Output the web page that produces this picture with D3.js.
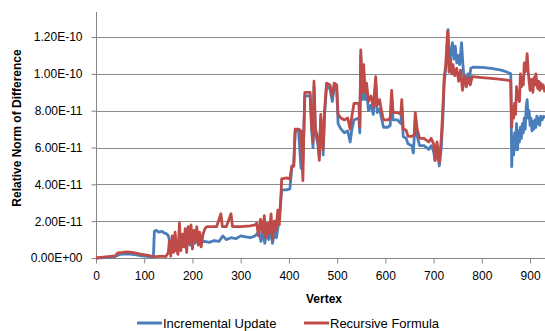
<!DOCTYPE html>
<html>
<head>
<meta charset="utf-8">
<script src="https://cdn.jsdelivr.net/npm/d3@7"></script>
<style>
  body { margin: 0; background: #fff; }
  text { font-family: "Liberation Sans", Arial, sans-serif; fill: #000; }
</style>
</head>
<body>
<div id="chart"></div>
<script>
// values, in units of 1E-11
const UNIT = 1e-11;
const Y_TICKS = [0, 2e-11, 4e-11, 6e-11, 8e-11, 1e-10, 1.2e-10];
const X_TICKS = [0, 100, 200, 300, 400, 500, 600, 700, 800, 900];
const SERIES_NAMES = ["Incremental Update", "Recursive Formula"];
const SERIES_COLORS = ["#4a7ebb", "#be4b48"];

// [vertex, value]
const incrementalUpdate = [
  [0,0],[20,0.02],[40,0.08],[50,0.2],[65,0.22],[80,0.18],[95,0.12],[110,0.08],[119,0.05],
  [121,1.45],[125,1.5],[130,1.4],[137,1.45],[142,1.35],[147,1.3],[150,1.2],[153,0.9],
  [155,0.3],[160,0.8],[165,0.4],[170,0.9],[175,0.5],[180,1.0],[185,0.6],[190,0.9],[195,0.7],
  [200,1.0],[205,0.8],[210,1.0],[215,0.85],[225,0.9],[235,0.85],[245,0.95],[255,0.9],[263,1.2],
  [270,1.0],[280,1.1],[290,1.05],[300,1.2],[310,1.15],[320,1.1],[330,1.2],[338,1.45],
  [342,0.9],[346,1.4],[350,0.8],[354,1.5],[358,1.0],[362,1.6],[366,0.8],[370,1.4],[374,1.1],
  [377,1.6],[381,2.5],[385,3.7],[395,3.7],[402,3.75],[406,4.9],[410,5.0],[413,6.9],[420,6.9],
  [425,4.9],[428,4.8],[431,6.8],[433,8.8],[444,8.8],[447,7.0],[450,6.0],[452,9.3],[455,6.8],
  [460,6.2],[463,5.5],[466,7.6],[471,5.6],[474,7.8],[478,9.3],[485,9.2],[490,8.5],[494,9.3],
  [499,9.2],[502,7.3],[508,7.0],[515,6.8],[522,6.9],[527,6.3],[530,6.9],[535,7.5],[545,7.6],
  [547,6.8],[549,11.0],[552,8.6],[555,10.1],[558,8.6],[561,9.1],[565,8.0],[570,8.3],[575,7.8],
  [580,9.5],[583,7.9],[588,8.1],[592,7.6],[596,7.1],[605,7.1],[610,7.2],[613,8.7],[616,7.5],
  [625,7.5],[632,7.3],[634,8.2],[637,6.6],[643,6.5],[647,6.2],[655,6.1],[658,5.7],[662,7.5],
  [666,6.6],[671,6.1],[680,6.1],[690,5.9],[695,6.1],[700,5.8],[703,5.3],[707,5.9],[712,5.0],
  [716,6.0],[719,7.5],[722,9.5],[726,10.5],[730,12.4],[733,10.4],[736,11.2],[739,11.7],
  [742,10.8],[745,11.5],[748,10.6],[751,11.0],[754,10.5],[758,11.7],[761,10.4],[764,9.6],
  [768,9.4],[771,10.0],[774,9.6],[777,10.3],[782,10.36],[800,10.35],[820,10.3],[840,10.2],
  [852,10.1],[860,10.0],[862,4.96],[864,6.6],[866,5.6],[868,6.8],[870,5.9],[872,7.3],
  [874,5.87],[876,6.9],[878,6.3],[880,7.1],[882,6.5],[884,7.3],[886,6.8],[888,7.6],[890,7.0],
  [892,8.2],[894,8.6],[896,7.6],[898,8.0],[900,7.2],[902,7.6],[904,6.9],[906,7.4],[908,7.0],
  [910,7.5],[912,7.1],[914,7.7],[916,7.3],[918,7.6],[920,7.2],[922,7.7],[925,7.5],[928,7.7],
  [931,7.6]
];

const recursiveFormula = [
  [0,0],[10,0.03],[25,0.08],[40,0.12],[45,0.28],[55,0.3],[65,0.33],[75,0.3],[85,0.25],
  [95,0.2],[105,0.15],[115,0.1],[125,0.08],[135,0.1],[145,0.08],[150,0.3],
  [152,0.9],[155,0.1],[158,1.2],[161,0.3],[164,1.4],[167,0.5],[170,0.2],[173,1.9],[176,0.4],
  [179,1.3],[182,0.6],[185,1.6],[188,0.3],[191,1.7],[194,0.8],[197,1.8],[200,0.5],[203,1.5],
  [206,0.9],[209,1.7],[212,0.7],[215,1.4],[218,0.6],[222,1.3],[226,1.6],[230,1.7],[240,1.7],
  [250,1.7],[259,2.4],[262,1.7],[270,1.7],[280,2.4],[283,1.7],[300,1.7],[320,1.75],[330,1.8],
  [333,1.9],[337,1.2],[341,2.1],[345,1.4],[349,2.3],[352,1.1],[356,1.9],[359,1.3],[363,2.4],
  [366,1.0],[370,2.0],[373,1.5],[377,2.6],[380,1.8],[383,3.0],[385,4.3],[395,4.35],[402,4.3],
  [406,5.0],[410,5.0],[413,7.0],[420,7.0],[425,6.9],[429,4.2],[431,7.0],[433,9.0],[444,9.0],
  [447,7.2],[450,6.3],[452,9.6],[455,7.0],[460,6.5],[463,5.3],[466,7.8],[471,5.9],[474,8.0],
  [478,9.5],[485,9.4],[490,8.8],[494,9.5],[499,9.4],[502,7.8],[508,7.6],[515,7.5],[522,7.6],
  [527,7.0],[530,7.6],[535,8.4],[545,8.4],[547,7.1],[549,11.3],[552,9.0],[555,10.5],[558,9.0],
  [561,9.5],[565,8.5],[570,8.8],[575,8.2],[580,9.85],[583,8.3],[588,8.6],[592,8.0],[596,7.5],
  [605,7.5],[610,7.6],[613,9.1],[616,7.9],[625,7.9],[632,7.8],[634,8.6],[637,7.0],[643,6.95],
  [647,6.6],[655,6.6],[660,6.7],[662,7.9],[666,7.0],[671,6.5],[680,6.5],[690,6.3],[695,6.5],
  [700,6.2],[703,5.3],[707,6.3],[712,5.2],[716,6.5],[719,8.0],[722,9.85],[725,10.4],[729,12.3],
  [732,10.1],[735,10.8],[738,10.0],[740,10.5],[744,9.9],[748,10.3],[752,9.6],[756,10.2],
  [760,9.1],[764,9.9],[768,9.3],[772,9.8],[776,9.4],[780,9.85],[800,9.8],[820,9.75],[840,9.7],
  [855,9.65],[860,9.6],[862,7.1],[864,8.2],[866,7.6],[868,8.4],[870,7.8],[872,9.3],[874,8.6],
  [876,9.0],[878,8.5],[880,10.0],[882,9.3],[884,9.8],[886,9.4],[888,10.6],[890,10.1],
  [892,10.4],[894,11.1],[896,10.2],[898,9.6],[900,9.1],[902,9.7],[904,9.4],[906,9.0],
  [908,9.8],[910,9.4],[912,10.0],[914,9.5],[916,9.2],[918,9.6],[920,9.1],[922,9.5],[924,9.2],
  [927,9.4],[931,9.0]
];

const width = 545, height = 331;
const margin = {left: 96, right: 0, top: 12, bottom: 73};

const svg = d3.select("#chart").append("svg")
  .attr("width", width)
  .attr("height", height);

const x = d3.scaleLinear()
  .domain([0, 931])
  .range([margin.left, width - margin.right]);

// 1.20E-10 sits at y=37, top of the plot area is a bit above it
const y = d3.scaleLinear()
  .domain([0, 1.336e-10])
  .range([height - margin.bottom, margin.top]);

function fmtE(v) {
  let s = v.toExponential(2).split("e");
  let e = +s[1];
  let sign = e < 0 ? "-" : "+";
  let ab = Math.abs(e);
  return s[0] + "E" + sign + (ab < 10 ? "0" + ab : ab);
}

// gridlines
svg.append("g")
  .selectAll("line")
  .data(Y_TICKS.slice(1))
  .join("line")
    .attr("x1", x(0))
    .attr("x2", width)
    .attr("y1", d => Math.round(y(d)) + 0.5)
    .attr("y2", d => Math.round(y(d)) + 0.5)
    .attr("stroke", "#8c8c8c")
    .attr("stroke-width", 1);

// y axis
const yAxis = svg.append("g")
  .attr("transform", `translate(${x(0) + 0.5},0)`)
  .call(d3.axisLeft(y).tickValues(Y_TICKS).tickFormat(fmtE).tickSize(5).tickPadding(9));
yAxis.select(".domain").attr("stroke", "#868686").attr("d", `M-0,${y(0)}V${margin.top}`);
yAxis.selectAll(".tick line").attr("stroke", "#868686");
yAxis.selectAll(".tick text")
  .style("font-family", "Liberation Sans, Arial, sans-serif")
  .style("font-size", "12px")
  .attr("fill", "#000");

// x axis
const xAxis = svg.append("g")
  .attr("transform", `translate(0,${Math.round(y(0)) + 0.5})`)
  .call(d3.axisBottom(x).tickValues(X_TICKS).tickFormat(d3.format("d")).tickSize(5).tickPadding(8));
xAxis.select(".domain").attr("stroke", "#868686").attr("d", `M${x(0)},0H${width}`);
xAxis.selectAll(".tick line").attr("stroke", "#868686");
xAxis.selectAll(".tick text")
  .style("font-family", "Liberation Sans, Arial, sans-serif")
  .style("font-size", "12px")
  .attr("fill", "#000");

// lines
const line = d3.line()
  .x(d => x(d[0]))
  .y(d => y(d[1] * UNIT));

[incrementalUpdate, recursiveFormula].forEach(function(s, i) {
  svg.append("path")
    .datum(s)
    .attr("fill", "none")
    .attr("stroke", SERIES_COLORS[i])
    .attr("stroke-width", 2.8)
    .attr("stroke-linejoin", "round")
    .attr("d", line);
});

// axis titles
svg.append("text")
  .attr("x", 324)
  .attr("y", 303)
  .attr("text-anchor", "middle")
  .style("font-size", "12px")
  .style("font-weight", "bold")
  .text("Vertex");

svg.append("text")
  .attr("transform", "translate(21,128) rotate(-90)")
  .attr("text-anchor", "middle")
  .style("font-size", "12px")
  .style("font-weight", "bold")
  .text("Relative Norm of Difference");

// legend
const legendX = [137, 304];
const legend = svg.append("g")
  .selectAll("g")
  .data(SERIES_NAMES)
  .join("g")
    .attr("transform", (d, i) => `translate(${legendX[i]},323)`);

legend.append("line")
  .attr("x1", 0)
  .attr("x2", 25)
  .attr("stroke", (d, i) => SERIES_COLORS[i])
  .attr("stroke-width", 3);

legend.append("text")
  .attr("x", 26)
  .attr("y", 4.5)
  .style("font-size", "13px")
  .text(d => d);
</script>
</body>
</html>
